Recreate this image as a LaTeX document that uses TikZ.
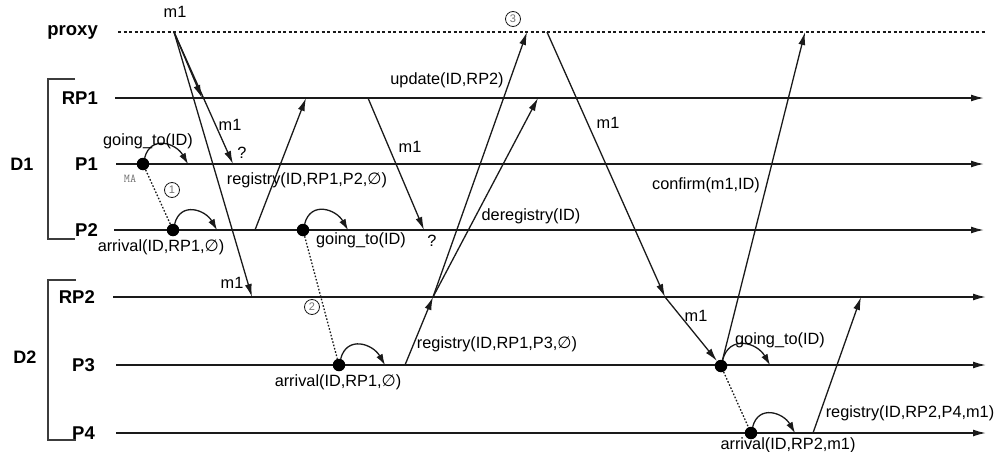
\documentclass[tikz,border=0pt]{standalone}
\usepackage{fontspec}
\setmainfont{Liberation Sans}
\newfontfamily\symfam{DejaVu Sans}
\newcommand{\nul}{{\symfam ∅}}
\usetikzlibrary{arrows.meta}
\definecolor{ink}{HTML}{1A1A1A}
\begin{document}
\begin{tikzpicture}[x=1pt,y=-1pt,
  every node/.style={inner sep=0pt, text=black},
  txt/.style={font=\fontsize{16.3}{19}\selectfont},
  who/.style={font=\fontsize{18.5}{21}\selectfont\bfseries, anchor=east},
  life/.style={draw=ink, line width=1.6pt, -{Latex[length=13pt,width=7pt]}},
  msg/.style={draw=ink, line width=1.3pt, -{Latex[length=13pt,width=7pt]}},
  hop/.style={draw=ink, line width=1.3pt, -{Latex[length=11pt,width=7pt]}, out=75, in=120, looseness=1.4},
  move/.style={draw=ink, line width=1.3pt, dash pattern=on 1.6pt off 1.8pt},
  agent/.style={circle, fill=black, minimum size=12.5pt},
  stage/.style={circle, draw=ink, line width=0.8pt, minimum size=15pt, text=black!55,
    font=\fontsize{11}{11}\selectfont},
  brace/.style={draw=ink!85, line width=1.5pt}
]
\useasboundingbox (0,0) rectangle (996,452);

% ---- lifelines -------------------------------------------------------
\coordinate (proxyL) at (118,32);  \coordinate (proxyR) at (985,32);
\coordinate (rpaL)   at (115,98);  \coordinate (rpaR)   at (984,98);
\coordinate (paL)    at (116,164); \coordinate (paR)    at (984,164);
\coordinate (pbL)    at (114,230); \coordinate (pbR)    at (984,230);
\coordinate (rpbL)   at (113,297); \coordinate (rpbR)   at (986,297);
\coordinate (pcL)    at (116,365); \coordinate (pcR)    at (986,365);
\coordinate (pdL)    at (116,433); \coordinate (pdR)    at (986,433);

\draw[draw=ink, line width=1.2pt, dash pattern=on 3pt off 2.5pt] (proxyL) -- (proxyR);
\draw[life] (rpaL) -- (rpaR);
\draw[life] (paL) -- (paR);
\draw[life] (pbL) -- (pbR);
\draw[life] (rpbL) -- (rpbR);
\draw[life] (pcL) -- (pcR);
\draw[life] (pdL) -- (pdR);

\node[who] (nproxy) at (98,32)  {proxy};
\node[who] (nrpa)   at (98,98)  {RP1};
\node[who] (npa)    at (98,164) {P1};
\node[who] (npb)    at (98,230) {P2};
\node[who] (nrpb)   at (95,297) {RP2};
\node[who] (npc)    at (95,365) {P3};
\node[who] (npd)    at (95,433) {P4};

% ---- domain brackets -------------------------------------------------
\coordinate (ba1) at (75,79);  \coordinate (ba2) at (48,79);
\coordinate (ba3) at (48,239); \coordinate (ba4) at (75,239);
\draw[brace] (ba1) -- (ba2) -- (ba3) -- (ba4);
\coordinate (bb1) at (76,280); \coordinate (bb2) at (48,280);
\coordinate (bb3) at (48,440); \coordinate (bb4) at (76,440);
\draw[brace] (bb1) -- (bb2) -- (bb3) -- (bb4);
\node[font=\fontsize{18}{21}\selectfont\bfseries] (dom1) at (22,164) {D1};
\node[font=\fontsize{18}{21}\selectfont\bfseries] (dom2) at (25,357) {D2};

% ---- first message m1 ------------------------------------------------
\coordinate (src1) at (174,32);
\coordinate (m1a) at (202,98);
\coordinate (m1b) at (233,164);
\coordinate (m1c) at (252,297);
\draw[msg] (src1) -- (m1a);
\draw[msg] (src1) -- (m1b);
\draw[msg] (src1) -- (m1c);
\node[txt] (lm1a) at (175,12) {m1};
\node[txt] (lm1b) at (230,125) {m1};
\node[txt] (lq1)  at (242,153) {?};
\node[txt] (lm1c) at (232,283) {m1};

% ---- P1 -> P2 migration ---------------------------------------------
\node[agent] (ag1) at (143,164) {};
\coordinate (ag1e) at (188,164);
\draw[hop] (ag1) to (ag1e);
\node[txt] (lg1) at (148,141) {going\_to(ID)};
\node[font=\fontsize{12}{12}\ttfamily, text=black!55] (lma) at (130,179) {MA};
\node[stage] (s1) at (172,190) {1};
\node[agent] (ag2) at (173,230) {};
\draw[move] (ag1) -- (ag2);
\coordinate (ag2e) at (217,230);
\draw[hop] (ag2) to (ag2e);
\node[txt] (la1) at (161,247) {arrival(ID,RP1,\nul)};

% registry at RP1
\coordinate (r1s) at (255,230);
\coordinate (r1e) at (306,98);
\draw[msg] (r1s) -- (r1e);
\node[txt] (lr1) at (307,180) {registry(ID,RP1,P2,\nul)};

% ---- P2 -> P3 migration ---------------------------------------------
\node[agent] (ag3) at (303,230) {};
\coordinate (ag3e) at (348,230);
\draw[hop] (ag3) to (ag3e);
\node[txt] (lg2) at (361,240) {going\_to(ID)};

\coordinate (m2s) at (368,98);
\coordinate (m2e) at (424,230);
\draw[msg] (m2s) -- (m2e);
\node[txt] (lm2) at (410,147) {m1};
\node[txt] (lq2) at (432,241) {?};

\node[stage] (s2) at (312,307) {2};
\node[agent] (ag4) at (339,365) {};
\draw[move] (ag3) -- (ag4);
\coordinate (ag4e) at (385,365);
\draw[hop] (ag4) to (ag4e);
\node[txt] (la2) at (338,382) {arrival(ID,RP1,\nul)};

% registry at RP2, then update and deregistry
\coordinate (r2s) at (405,365);
\coordinate (r2e) at (433,297);
\draw[msg] (r2s) -- (r2e);
\node[txt] (lr2) at (497,344) {registry(ID,RP1,P3,\nul)};

\coordinate (upe) at (527,32);
\coordinate (dre) at (538,98);
\draw[msg] (r2e) -- (upe);
\draw[msg] (r2e) -- (dre);
\node[txt] (lup) at (447,80) {update(ID,RP2)};
\node[txt] (ldr) at (531,216) {deregistry(ID)};
\node[stage] (s3) at (513,19) {3};

% ---- second delivery of m1 ------------------------------------------
\coordinate (m3s) at (547,32);
\coordinate (m3e) at (665,297);
\draw[msg] (m3s) -- (m3e);
\node[txt] (lm3) at (608,123) {m1};
\node[agent] (ag5) at (721,366) {};
\draw[msg] (m3e) -- (ag5);
\node[txt] (lm4) at (696,316) {m1};

\coordinate (cfe) at (805,32);
\draw[msg] (ag5) -- (cfe);
\node[txt] (lcf) at (706,185) {confirm(m1,ID)};

% ---- P3 -> P4 migration ---------------------------------------------
\coordinate (ag5e) at (770,365);
\draw[hop] (ag5) to (ag5e);
\node[txt] (lg3) at (780,340) {going\_to(ID)};
\node[agent] (ag6) at (751,433) {};
\draw[move] (ag5) -- (ag6);
\coordinate (ag6e) at (795,433);
\draw[hop] (ag6) to (ag6e);
\node[txt] (la3) at (788,445) {arrival(ID,RP2,m1)};

\coordinate (r3s) at (813,433);
\coordinate (r3e) at (861,297);
\draw[msg] (r3s) -- (r3e);
\node[txt] (lr3) at (910,413) {registry(ID,RP2,P4,m1)};
\end{tikzpicture}
\end{document}
